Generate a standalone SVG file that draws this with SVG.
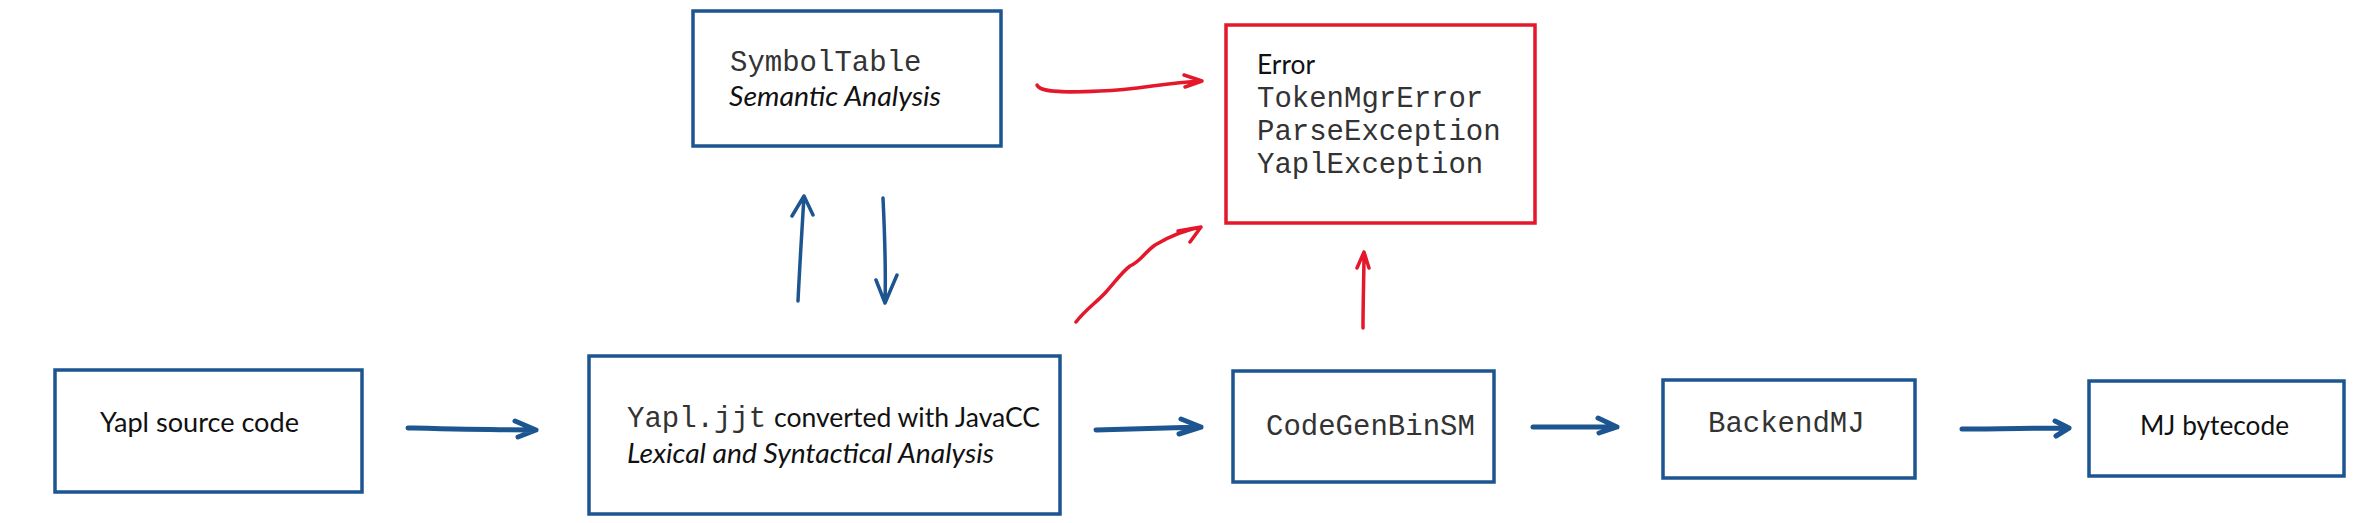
<svg xmlns="http://www.w3.org/2000/svg" width="2354" height="523" viewBox="0 0 2354 523">
<style>
.bg{fill:#ffffff}
.box{fill:#ffffff;stroke:#1d5591;stroke-width:3.5}
.ebox{fill:#ffffff;stroke:#e5172b;stroke-width:3.5}
.sans{font-family:Lato,"Open Sans","Liberation Sans",sans-serif;font-size:27px;fill:#111}
.ital{font-family:Lato,"Open Sans","Liberation Sans",sans-serif;font-size:27px;font-style:italic;fill:#111}
.mono{font-family:"Liberation Mono","DejaVu Sans Mono",monospace;font-size:29px;fill:#333}
.ba{fill:none;stroke:#1d5591;stroke-width:5;stroke-linecap:round;stroke-linejoin:round}
.bv{fill:none;stroke:#1d5591;stroke-width:3.5;stroke-linecap:round;stroke-linejoin:round}
.ra{fill:none;stroke:#e5172b;stroke-width:3.5;stroke-linecap:round;stroke-linejoin:round}
</style>
<rect class="bg" x="0" y="0" width="2354" height="523"/>
<g id="symboltable">
<rect class="box" x="693" y="11" width="308" height="135"/>
<text class="mono" x="730" y="71">SymbolTable</text>
<text class="ital" x="729" y="106" textLength="212" lengthAdjust="spacingAndGlyphs">Semantic Analysis</text>
</g>
<g id="error">
<rect class="ebox" x="1226" y="25" width="309" height="198"/>
<text class="sans" x="1257" y="74" textLength="58" lengthAdjust="spacingAndGlyphs">Error</text>
<text class="mono" x="1257" y="107">TokenMgrError</text>
<text class="mono" x="1257" y="140">ParseException</text>
<text class="mono" x="1257" y="173">YaplException</text>
</g>
<g id="source">
<rect class="box" x="55" y="370" width="307" height="122"/>
<text class="sans" x="100" y="432" textLength="199" lengthAdjust="spacingAndGlyphs">Yapl source code</text>
</g>
<g id="parser">
<rect class="box" x="589" y="356" width="471" height="158"/>
<text class="mono" x="627" y="427">Yapl.jjt</text>
<text class="sans" x="774" y="427" textLength="266" lengthAdjust="spacingAndGlyphs">converted with JavaCC</text>
<text class="ital" x="627" y="463" textLength="367" lengthAdjust="spacingAndGlyphs">Lexical and Syntactical Analysis</text>
</g>
<g id="codegen">
<rect class="box" x="1233" y="371" width="261" height="111"/>
<text class="mono" x="1266" y="435">CodeGenBinSM</text>
</g>
<g id="backend">
<rect class="box" x="1663" y="380" width="252" height="98"/>
<text class="mono" x="1708" y="432">BackendMJ</text>
</g>
<g id="bytecode">
<rect class="box" x="2089" y="381" width="255" height="95"/>
<text class="sans" x="2140" y="435" textLength="149" lengthAdjust="spacingAndGlyphs">MJ bytecode</text>
</g>
<g id="connectors">
<path class="ba" d="M408,428 C450,429 490,430 536,430 M515,421 L536,430 L518,437"/>
<path class="ba" d="M1096,430 C1130,429 1165,428 1201,427 M1181,419 L1201,427 L1179,434"/>
<path class="ba" d="M1533,427 C1560,427 1590,427 1617,427 M1598,418 L1617,427 L1599,433"/>
<path class="ba" d="M1962,429 C2000,429 2035,428 2069,428 M2055,421 L2069,428 L2056,436"/>
<path class="bv" d="M798,301 C800,260 802,230 804,196 M792,216 L804,196 L813,215"/>
<path class="bv" d="M883,198 C885,240 886,270 885,303 M876,280 L885,303 L897,275"/>
<path class="ra" d="M1037,85 C1040,92 1060,93 1100,91 C1140,90 1160,83 1202,81 M1184,75 L1202,81 L1185,87"/>
<path class="ra" d="M1076,322 C1085,310 1097,302 1106,292 C1115,282 1122,272 1130,266 C1140,262 1145,252 1155,245 C1170,236 1185,230 1201,227 M1178,231 L1201,227 L1190,242"/>
<path class="ra" d="M1363,328 C1363,300 1364,275 1364,252 M1357,268 L1364,252 L1369,268"/>
</g>
</svg>
